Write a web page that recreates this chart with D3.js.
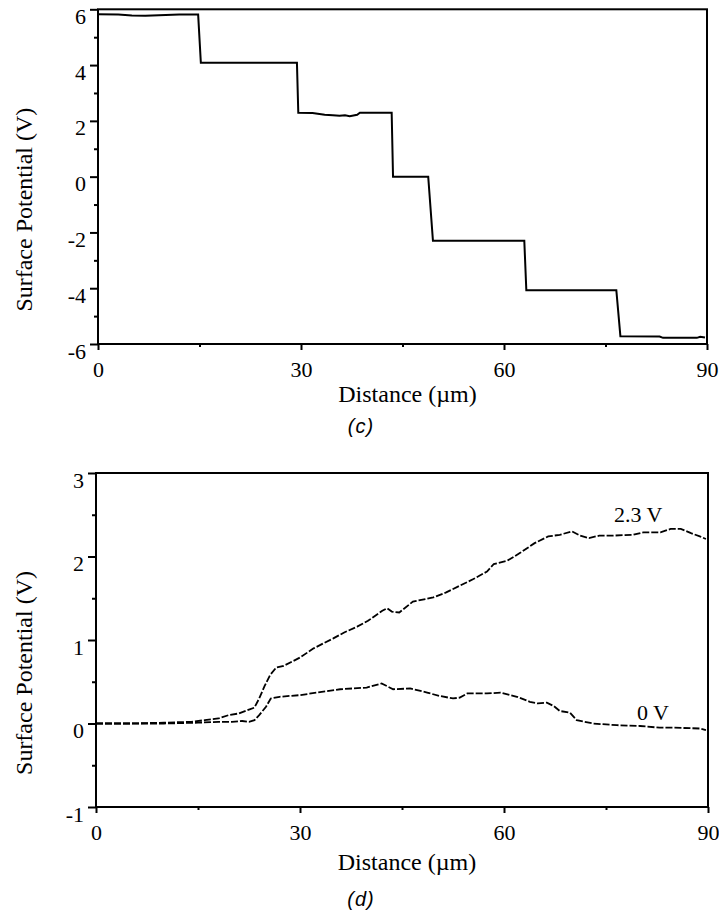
<!DOCTYPE html>
<html>
<head>
<meta charset="utf-8">
<script src="https://cdn.jsdelivr.net/npm/d3@7"></script>
<style>
  body { margin: 0; background: #fff; }
</style>
</head>
<body>
<div id="chart"></div>
<script>
// panel (c): stepped surface potential
const stepDist = [0, 3, 5, 7, 9, 12, 14.8, 15.2, 29.4, 29.6, 31.7, 33.5, 34.7, 35.7, 36.5, 37.2, 38.3, 38.7,
  43.4, 43.6, 48.8, 49.5, 63, 63.3, 76.6, 77.2, 83, 83.5, 88.5, 89, 89.7];
const stepPot = [5.82, 5.81, 5.78, 5.77, 5.79, 5.81, 5.81, 4.08, 4.08, 2.29, 2.28, 2.22, 2.2, 2.18, 2.2, 2.17, 2.22, 2.29,
  2.29, 0, 0, -2.3, -2.3, -4.07, -4.07, -5.72, -5.73, -5.78, -5.78, -5.74, -5.77];

// panel (d): two profiles
const upperDist = [0, 5, 10, 14, 16, 18, 19.5, 21, 22.6, 23.3, 24, 24.8, 25.6, 26.5, 27.6, 30, 32, 34.9, 36.5, 38.4,
  40, 42.1, 42.8, 43.5, 44.6, 46.6, 49.6, 51.5, 53.5, 55.5, 57.5, 58.5, 60.5, 62.5, 64.5, 66.5, 68.2, 70,
  71.2, 72.5, 74, 76, 79, 80.5, 83, 84.5, 86, 87.5, 88.8, 89.7];
const upperPot = [0, 0, 0.01, 0.02, 0.04, 0.06, 0.1, 0.12, 0.17, 0.19, 0.3, 0.45, 0.58, 0.67, 0.69, 0.79, 0.9, 1.02, 1.09, 1.16,
  1.23, 1.35, 1.38, 1.34, 1.33, 1.46, 1.51, 1.57, 1.65, 1.73, 1.82, 1.91, 1.95, 2.05, 2.16, 2.24, 2.26, 2.3,
  2.25, 2.22, 2.25, 2.25, 2.26, 2.29, 2.29, 2.33, 2.33, 2.28, 2.24, 2.21];
const lowerDist = [0, 10, 15, 18, 20, 21.5, 22.5, 23.3, 24, 25, 25.7, 27, 30, 32.5, 35.9, 39.8, 42, 43.7, 46.2, 48.7,
  50.5, 52.5, 53.5, 54.6, 57.5, 59.5, 61.9, 63.8, 65, 66.3, 67.3, 68.2, 69.7, 70.7, 73.1, 76.6, 80, 82.9, 85, 88.8, 89.7];
const lowerPot = [0, 0, 0.01, 0.02, 0.02, 0.03, 0.02, 0.04, 0.1, 0.2, 0.3, 0.32, 0.34, 0.37, 0.41, 0.43, 0.48, 0.41, 0.42, 0.37,
  0.33, 0.3, 0.31, 0.36, 0.36, 0.37, 0.32, 0.26, 0.24, 0.25, 0.21, 0.15, 0.13, 0.04, 0, -0.02, -0.03, -0.05, -0.05, -0.06, -0.08];

const xMajor = [0, 30, 60, 90];
const xMinor = [15, 45, 75];

const serif = "'Liberation Serif', 'Times New Roman', serif";
const width = 719, height = 915;
const svg = d3.select("#chart").append("svg")
  .attr("width", width)
  .attr("height", height)
  .attr("font-family", serif);

function drawPanel(p) {
  const x = d3.scaleLinear().domain([0, 90]).range([p.left, p.right]);
  const y = d3.scaleLinear().domain(p.yDomain).range([p.bottom, p.top]);
  const g = svg.append("g");

  // minor ticks first
  g.append("g")
    .attr("transform", `translate(0,${p.bottom})`)
    .call(d3.axisBottom(x).tickValues(xMinor).tickSize(3).tickFormat("").tickSizeOuter(0))
    .call(a => a.select(".domain").remove());
  g.append("g")
    .attr("transform", `translate(${p.left},0)`)
    .call(d3.axisLeft(y).tickValues(p.yMinor).tickSize(4).tickFormat("").tickSizeOuter(0))
    .call(a => a.select(".domain").remove());

  const xAxis = g.append("g")
    .attr("transform", `translate(0,${p.bottom})`)
    .call(d3.axisBottom(x).tickValues(xMajor).tickSize(6).tickPadding(11)
      .tickFormat(d => String(d)).tickSizeOuter(0));
  xAxis.select(".domain").remove();
  xAxis.attr("font-family", serif).attr("font-size", 22);

  const yAxis = g.append("g")
    .attr("transform", `translate(${p.left},0)`)
    .call(d3.axisLeft(y).tickValues(p.yMajor).tickSize(8).tickPadding(4)
      .tickFormat(d => String(d)).tickSizeOuter(0));
  yAxis.select(".domain").remove();
  yAxis.attr("font-family", serif).attr("font-size", 22);
  yAxis.selectAll("text").attr("dy", "0.64em");

  g.selectAll(".tick line").attr("stroke-width", 2);

  // frame
  g.append("rect")
    .attr("x", p.left).attr("y", p.top)
    .attr("width", p.right - p.left).attr("height", p.bottom - p.top)
    .attr("fill", "none").attr("stroke", "#000").attr("stroke-width", 2);

  const line = d3.line().x(d => x(d[0])).y(d => y(d[1]));
  p.series.forEach(s => {
    g.append("path")
      .datum(s.dist.map((d, i) => [d, s.pot[i]]))
      .attr("d", line)
      .attr("fill", "none")
      .attr("stroke", "#000")
      .attr("stroke-width", s.dash ? 1.8 : 2)
      .attr("stroke-dasharray", s.dash || null);
  });

  g.append("text")
    .attr("x", (p.left + p.right) / 2 + 5)
    .attr("y", p.xTitleY)
    .attr("text-anchor", "middle")
    .attr("font-size", 24)
    .text("Distance (\u00b5m)");

  g.append("text")
    .attr("transform", `translate(32,${(p.top + p.bottom) / 2 + 33}) rotate(-90)`)
    .attr("text-anchor", "middle")
    .attr("font-size", 24)
    .text("Surface Potential (V)");

  g.append("text")
    .attr("x", 361)
    .attr("y", p.tagY)
    .attr("text-anchor", "middle")
    .attr("font-size", 20)
    .attr("font-style", "italic")
    .attr("font-family", "'Liberation Sans', Arial, sans-serif")
    .attr("letter-spacing", 1)
    .text(p.tag);

  (p.notes || []).forEach(n => {
    g.append("text")
      .attr("x", n.x).attr("y", n.y)
      .attr("font-size", 22)
      .text(n.text);
  });
}

drawPanel({
  left: 98, right: 707, top: 9.3, bottom: 344,
  yDomain: [-6, 6],
  yMajor: [-6, -4, -2, 0, 2, 4, 6],
  yMinor: [-5, -3, -1, 1, 3, 5],
  series: [{ dist: stepDist, pot: stepPot }],
  xTitleY: 402, tagY: 433, tag: "(c)"
});

drawPanel({
  left: 96, right: 708, top: 473, bottom: 807,
  yDomain: [-1, 3],
  yMajor: [-1, 0, 1, 2, 3],
  yMinor: [-0.5, 0.5, 1.5, 2.5],
  series: [
    { dist: upperDist, pot: upperPot, dash: "7,2" },
    { dist: lowerDist, pot: lowerPot, dash: "7,2" }
  ],
  xTitleY: 870, tagY: 906, tag: "(d)",
  notes: [
    { text: "2.3 V", x: 614, y: 522 },
    { text: "0 V", x: 637, y: 720 }
  ]
});
</script>
</body>
</html>
